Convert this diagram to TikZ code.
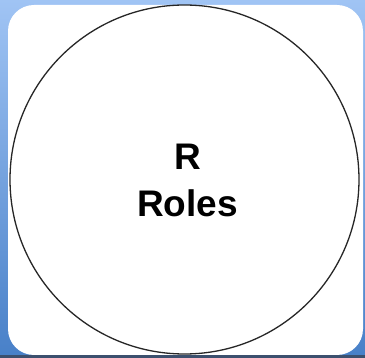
\documentclass[tikz,border=0pt]{standalone}
\usepackage{fontspec}
\setmainfont{Liberation Sans}
\definecolor{bgtop}{RGB}{160,196,244}
\definecolor{bgbot}{RGB}{72,128,200}
\definecolor{bgedge}{RGB}{60,80,110}
\begin{document}
\begin{tikzpicture}[x=1pt,y=-1pt,
  rolecircle/.style={draw=black!85,line width=1.3pt,circle,minimum size=349pt,inner sep=0pt},
  rolelabel/.style={font=\bfseries\fontsize{37}{47}\selectfont,align=center}]
\useasboundingbox (0,0) rectangle (365,358);
\shade[top color=bgtop,bottom color=bgbot] (0,0) rectangle (365,358);
\fill[bgedge] (0,355) rectangle (365,358);
\fill[white] (8,5) [rounded corners=26pt] rectangle (363,355);
\node[rolecircle] (c) at (184.5,179.5) {};
\node[rolelabel] (t) at (187.5,180) {R\\Roles};
\end{tikzpicture}
\end{document}
